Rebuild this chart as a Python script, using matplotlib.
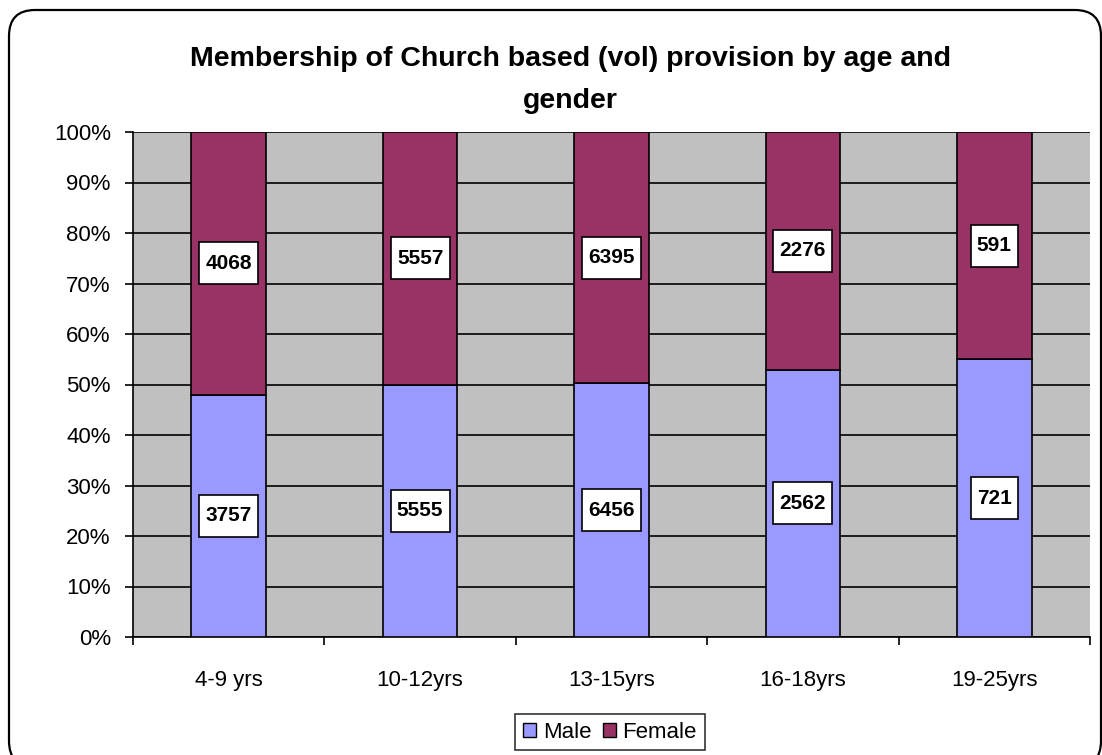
import numpy as np
import matplotlib
matplotlib.use("Agg")
import matplotlib.pyplot as plt
from matplotlib.patches import FancyBboxPatch, Patch
from matplotlib.path import Path
from matplotlib.ticker import MultipleLocator, PercentFormatter

# --- Data ---
age_groups = ["4-9 yrs", "10-12yrs", "13-15yrs", "16-18yrs", "19-25yrs"]
male = [3757, 5555, 6456, 2562, 721]
female = [4068, 5557, 6395, 2276, 591]

COLORS = {"Male": "#9999FF", "Female": "#993366"}
plt.rcParams["font.family"] = ["Liberation Sans", "DejaVu Sans"]

male = np.array(male, dtype=float)
female = np.array(female, dtype=float)
total = male + female
male_pct = male / total * 100
female_pct = female / total * 100


def label_box(x0, y0, width, height, mutation_size):
    # square box, small side padding, taller top/bottom padding (like excel labels)
    px = 0.3 * mutation_size
    py = 0.55 * mutation_size
    x0, y0 = x0 - px, y0 - py
    x1, y1 = x0 + width + 2 * px, y0 + height + 2 * py
    return Path([(x0, y0), (x1, y0), (x1, y1), (x0, y1), (x0, y0)], closed=True)


W, H = 1102, 755
fig = plt.figure(figsize=(W / 100, H / 100), dpi=100)

# outer rounded chart border (in inches, so the corner is round)
border = FancyBboxPatch((9 / 100, -0.12), (1101 - 9) / 100, (H - 10) / 100 + 0.12,
                        boxstyle="round,pad=0,rounding_size=0.26",
                        transform=fig.dpi_scale_trans, fill=False,
                        edgecolor="black", linewidth=1.6, clip_on=False)
fig.patches.append(border)

ax = fig.add_axes([133 / W, 1 - 637 / H, (1090 - 133) / W, (637 - 132) / H])
ax.set_facecolor("#C0C0C0")

x = np.arange(len(age_groups))
w = 0.39
ax.bar(x, male_pct, w, color=COLORS["Male"], edgecolor="black", linewidth=1.2, zorder=3)
ax.bar(x, female_pct, w, bottom=male_pct, color=COLORS["Female"], edgecolor="black",
       linewidth=1.2, zorder=3)

box = dict(boxstyle=label_box, facecolor="white", edgecolor="black", linewidth=1.2)
for i in range(len(x)):
    ax.text(x[i], male_pct[i] / 2, f"{int(male[i])}", ha="center", va="center",
            fontsize=15, fontweight="bold", bbox=box, zorder=4)
    ax.text(x[i], male_pct[i] + female_pct[i] / 2, f"{int(female[i])}", ha="center",
            va="center", fontsize=15, fontweight="bold", bbox=box, zorder=4)

ax.set_xlim(-0.5, len(x) - 0.5)
ax.set_ylim(0, 100)
ax.yaxis.set_major_locator(MultipleLocator(10))
ax.yaxis.set_major_formatter(PercentFormatter(decimals=0))
ax.grid(axis="y", color="black", linewidth=1.2, zorder=1)
ax.set_axisbelow(True)

ax.set_xticks(x)
ax.set_xticklabels(age_groups, fontsize=16)
ax.set_xticks(np.arange(-0.5, len(x)), minor=True)
ax.tick_params(axis="x", which="major", length=0, pad=24)
ax.tick_params(axis="x", which="minor", length=6, width=1.2, direction="out")
ax.tick_params(axis="y", labelsize=16, length=6, width=1.2, direction="out", pad=10)
for side in ["top", "right"]:
    ax.spines[side].set_visible(False)
for side in ["left", "bottom"]:
    ax.spines[side].set_linewidth(1.2)

fig.text(570 / W, 1 - 59 / H, "Membership of Church based (vol) provision by age and",
         ha="center", va="center", fontsize=20.5, fontweight="bold")
fig.text(570 / W, 1 - 101 / H, "gender", ha="center", va="center",
         fontsize=20.5, fontweight="bold")

handles = [Patch(facecolor=COLORS["Male"], edgecolor="black"),
           Patch(facecolor=COLORS["Female"], edgecolor="black")]
leg = fig.legend(handles, ["Male", "Female"], loc="center", ncol=2,
                 bbox_to_anchor=(610 / W, 1 - 732 / H), fontsize=16,
                 frameon=True, fancybox=False, handlelength=0.6, handleheight=0.6,
                 handletextpad=0.3, columnspacing=0.5, borderpad=0.35,
                 borderaxespad=0)
leg.get_frame().set_edgecolor("black")
leg.get_frame().set_linewidth(1.2)

fig.savefig("out.png", dpi=100)
